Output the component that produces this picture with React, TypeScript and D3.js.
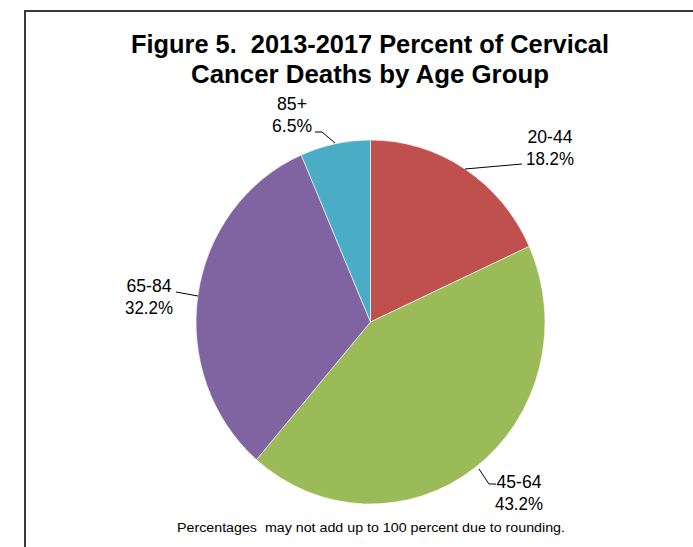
import React from "react";
import * as d3 from "d3";

const categories = ["20-44", "45-64", "65-84", "85+"];
const values = [18.2, 43.2, 32.2, 6.5];
const labels = ["18.2%", "43.2%", "32.2%", "6.5%"];
const colors = ["#C0504D", "#9BBB59", "#8064A2", "#4BACC6"];
const titleLines = ["Figure 5.  2013-2017 Percent of Cervical", "Cancer Deaths by Age Group"];
const footnote = "Percentages  may not add up to 100 percent due to rounding.";

const W = 693;
const H = 547;
const cx = 370.5;
const cy = 322;
const rx = 174.5;
const ry = 182;

// label layout: [x center, baseline of first line], leader polyline points
const labelPos: [number, number][] = [
  [550, 143],
  [519, 488],
  [149, 292],
  [292, 110],
];
const leaders: [number, number][][] = [
  [[465, 169], [522, 164]],
  [[479, 469], [489, 484], [496, 484]],
  [[198, 296], [176, 292]],
  [[335, 143], [322, 132], [315, 132]],
];

export default function App() {
  const pie = d3.pie<number>().sort(null).startAngle(0).endAngle(2 * Math.PI);
  const arcs = pie(values);
  const arc = d3.arc<d3.PieArcDatum<number>>().innerRadius(0).outerRadius(rx);
  const line = d3.line();
  const font = "'Liberation Sans', Arial, sans-serif";
  return (
    <svg width={W} height={H} style={{ position: "absolute", left: 0, top: 0, background: "#fff" }} fontFamily={font}>
      <rect x={0} y={0} width={W} height={H} fill="#fff" />
      <line x1={25} y1={11} x2={W} y2={11} stroke="#3a3a3a" strokeWidth={2} />
      <line x1={25} y1={10} x2={25} y2={H} stroke="#3a3a3a" strokeWidth={2} />
      {titleLines.map((t, i) => (
        <text
          key={t}
          x={370}
          y={53 + i * 30}
          textAnchor="middle"
          fontWeight="bold"
          fontSize={25}
          textLength={i === 0 ? 478 : 358}
          lengthAdjust="spacingAndGlyphs"
          fill="#000"
          style={{ whiteSpace: "pre" }}
        >
          {t}
        </text>
      ))}
      <g transform={`translate(${cx},${cy}) scale(1,${ry / rx})`}>
        {arcs.map((a, i) => (
          <path key={categories[i]} d={arc(a) || ""} fill={colors[i]} stroke="#fff" strokeWidth={0.6} />
        ))}
      </g>
      {leaders.map((pts, i) => (
        <path key={"l" + i} d={line(pts) || ""} fill="none" stroke="#000" strokeWidth={1} />
      ))}
      {categories.map((c, i) => (
        <g key={"t" + c}>
          <text x={labelPos[i][0]} y={labelPos[i][1]} textAnchor="middle" fontSize={18} textLength={c === "85+" ? 30 : 45} lengthAdjust="spacingAndGlyphs" fill="#000">
            {c}
          </text>
          <text x={labelPos[i][0]} y={labelPos[i][1] + 21.5} textAnchor="middle" fontSize={18} textLength={labels[i].length === 4 ? 40 : 48} lengthAdjust="spacingAndGlyphs" fill="#000">
            {labels[i]}
          </text>
        </g>
      ))}
      <text x={371} y={532} textAnchor="middle" fontSize={12.5} textLength={388} lengthAdjust="spacingAndGlyphs" fill="#000" style={{ whiteSpace: "pre" }}>
        {footnote}
      </text>
    </svg>
  );
}
